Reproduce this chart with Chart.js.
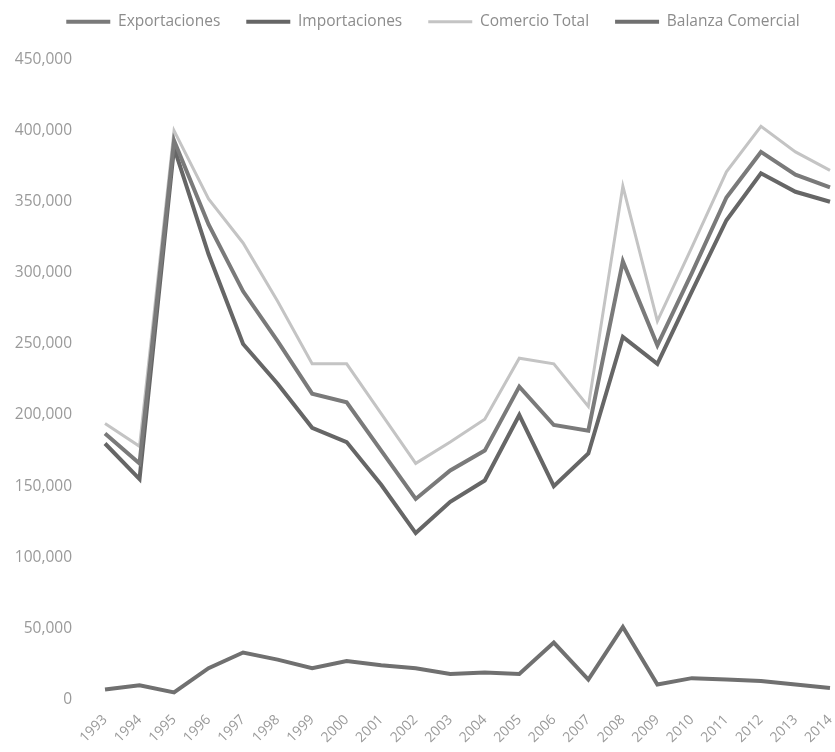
<!DOCTYPE html>
<html>
<head>
<meta charset="utf-8">
<script src="https://cdn.jsdelivr.net/npm/chart.js@4"></script>
<style>
  html, body { margin: 0; padding: 0; background: #fff; }
  #wrap { width: 835px; height: 752px; }
</style>
</head>
<body>
<div id="wrap"><canvas id="grafico"></canvas></div>
<script>
// valores
const anios = ['1993','1994','1995','1996','1997','1998','1999','2000','2001','2002','2003',
               '2004','2005','2006','2007','2008','2009','2010','2011','2012','2013','2014'];
const exportaciones = [187000,166000,393000,334000,287000,252000,215000,209000,175000,141000,161000,
                       175000,220000,193000,189000,308000,249000,300000,353000,385000,369000,360000];
const importaciones = [180000,155000,388000,313000,250000,222000,191000,181000,151000,117000,139000,
                       154000,200000,150000,173000,255000,236000,287000,337000,370000,357000,350000];
const comercioTotal = [194000,178000,400000,352000,321000,280000,236000,236000,201000,166000,181000,
                       197000,240000,236000,206000,361000,266000,318000,371000,403000,385000,372000];
const balanza = [7000,10000,5000,22000,33000,28000,22000,27000,24000,22000,18000,
                 19000,18000,40000,14000,51000,10500,15000,14000,13000,10500,8000];

const fuente = "'Open Sans', 'Noto Sans', sans-serif";

function serie(label, data, color, ancho) {
    return {
        label: label,
        data: data,
        borderColor: color,
        backgroundColor: color,
        borderWidth: ancho,
        pointRadius: 0,
        tension: 0,
        fill: false
    };
}

// más espacio bajo la leyenda y la leyenda un poco a la derecha
const ajusteLeyenda = {
    id: 'ajusteLeyenda',
    beforeInit(chart) {
        const fitOriginal = chart.legend.fit;
        chart.legend.fit = function() {
            fitOriginal.bind(chart.legend)();
            this.height += 20;
        };
    },
    afterLayout(chart) {
        chart.legend.left += 18;
        chart.legend.right += 18;
    }
};

new Chart(document.getElementById('grafico'), {
    type: 'line',
    data: {
        labels: anios,
        datasets: [
            serie('Exportaciones', exportaciones, '#7a7a7a', 4),
            serie('Importaciones', importaciones, '#666666', 4),
            serie('Comercio Total', comercioTotal, '#c4c4c4', 3),
            serie('Balanza Comercial', balanza, '#707070', 4)
        ]
    },
    plugins: [ajusteLeyenda],
    options: {
        responsive: true,
        maintainAspectRatio: false,
        animation: false,
        layout: { padding: { left: 0, right: 5, top: -12, bottom: 2 } },
        plugins: {
            legend: {
                position: 'top',
                labels: {
                    usePointStyle: true,
                    pointStyle: 'line',
                    pointStyleWidth: 44,
                    color: '#8c8c8c',
                    font: { family: fuente, size: 15.5 },
                    padding: 26
                }
            },
            tooltip: { enabled: false }
        },
        scales: {
            y: {
                min: 0,
                max: 450000,
                afterFit(escala) {
                    escala.width = 105;
                },
                ticks: {
                    stepSize: 50000,
                    color: '#9a9a9a',
                    padding: 25,
                    font: { family: fuente, size: 15.5 },
                    callback: v => v.toLocaleString('en-US')
                },
                grid: { display: false },
                border: { display: false }
            },
            x: {
                offset: false,
                afterFit(escala) {
                    escala.paddingLeft = 0;
                    escala.paddingRight = 0;
                },
                ticks: {
                    color: '#9a9a9a',
                    minRotation: 45,
                    maxRotation: 45,
                    autoSkip: false,
                    padding: 4,
                    font: { family: fuente, size: 14 }
                },
                grid: { display: false },
                border: { display: false }
            }
        }
    }
});
</script>
</body>
</html>
